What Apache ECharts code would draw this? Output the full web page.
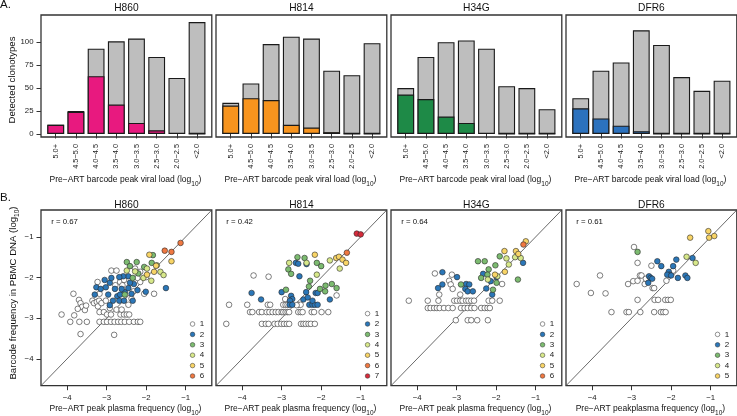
<!DOCTYPE html>
<html><head><meta charset="utf-8">
<script src="https://cdn.jsdelivr.net/npm/echarts@6/dist/echarts.min.js"></script>
<style>html,body{margin:0;padding:0;background:#fff}#c{width:737px;height:416px}</style>
</head><body><div id="c"></div>
<script>
// ---------- DATA ----------
const categories = ['5.0+','4.5−5.0','4.0−4.5','3.5−4.0','3.0−3.5','2.5−3.0','2.0−2.5','<2.0'];
const patients = ['H860','H814','H34G','DFR6'];
const totalH860 = [10,25,93,101,104,84,61,122];
const coloredH860 = [10,24,63,32,12,4,1,0];
const totalH814 = [34,55,98,106,104,69,64,99];
const coloredH814 = [31,39,37,10,7,2,0,0];
const totalH34G = [50,84,100,102,93,52,50,27];
const coloredH34G = [43,38,19,12,1,0,0,0];
const totalDFR6 = [39,69,78,113,97,62,47,58];
const coloredDFR6 = [28,17,9,3,0,0,0,0];
const yTicksA = [0,25,50,75,100];
const xyTicksB = [-4,-3,-2,-1];
const rValues = ['0.67','0.42','0.64','0.61'];
const groupNames = ['1','2','3','4','5','6','7'];

// scatter points [pre-ART peak plasma freq, PBMC DNA freq] (log10), by group
const h860_g1 = [[-4.14,-2.91],[-3.92,-3.09],[-3.84,-2.40],[-3.82,-2.93],[-3.69,-3.09],[-3.50,-3.09],[-3.70,-2.55],[-3.66,-2.63],[-3.62,-2.72],[-3.73,-2.77],[-3.55,-2.80],[-3.52,-2.69],[-3.66,-3.39],[-3.36,-2.57],[-3.32,-2.63],[-3.25,-2.60],[-3.19,-2.57],[-3.22,-2.71],[-3.13,-2.63],[-3.18,-2.85],[-3.07,-2.85],[-3.23,-2.11],[-3.18,-2.40],
 [-3.18,-3.09],[-3.07,-3.09],[-2.99,-3.09],[-2.89,-3.09],[-2.80,-3.09],[-2.71,-3.09],[-2.63,-3.09],[-2.54,-3.09],[-2.43,-3.09],[-2.31,-3.09],[-2.21,-3.09],[-2.15,-3.09],[-2.81,-3.41],
 [-2.99,-2.91],[-2.89,-2.91],[-2.65,-2.91],[-2.56,-2.91],[-2.49,-2.91],[-2.43,-2.91],
 [-2.88,-1.83],[-2.75,-1.83],[-2.78,-2.19],[-2.66,-2.11],[-2.56,-2.06],[-2.60,-2.19],[-2.28,-1.78],[-2.15,-1.86],[-2.45,-2.67],[-2.37,-2.52],[-2.75,-2.79],[-2.62,-2.79],[-2.05,-2.40],[-1.80,-2.40],[-2.15,-2.11],[-2.00,-1.99],[-2.22,-2.01],[-3.02,-2.57],[-2.92,-2.75],[-2.32,-2.34]];
const h860_g2 = [[-3.26,-2.24],[-3.30,-2.42],[-3.15,-2.28],[-3.02,-2.24],[-2.92,-2.13],[-2.88,-2.01],[-2.96,-2.42],[-2.79,-2.28],[-2.73,-2.46],[-2.84,-2.57],[-2.66,-2.42],[-2.68,-2.57],[-2.56,-2.57],[-2.54,-2.36],[-2.45,-2.26],[-2.37,-2.40],[-2.31,-2.16],[-2.22,-2.31],[-2.45,-1.97],[-2.58,-1.97],[-2.68,-1.99],[-2.92,-2.68],[-2.34,-2.57],[-2.01,-2.35],[-1.50,-2.26],[-3.05,-2.06],[-2.62,-2.28],[-2.41,-2.13]];
const h860_g3 = [[-2.49,-1.62],[-2.41,-1.72],[-2.24,-1.62],[-2.05,-1.74],[-1.86,-1.64],[-1.83,-1.45],[-2.34,-2.01],[-2.20,-1.90],[-2.54,-2.42]];
const h860_g4 = [[-2.49,-1.83],[-2.07,-2.01],[-1.87,-2.08],[-1.73,-1.70],[-1.64,-1.86],[-1.56,-1.94],[-2.28,-1.85],[-1.98,-1.78]];
const h860_g5 = [[-1.92,-1.44],[-1.75,-1.71],[-1.36,-1.60],[-1.98,-1.93],[-1.80,-1.86]];
const h860_g6 = [[-1.53,-1.34],[-1.36,-1.37],[-1.13,-1.15]];

const h814_g1 = [[-3.71,-1.95],[-3.33,-1.98],[-4.33,-2.67],[-4.40,-3.14],[-3.87,-2.67],[-3.35,-2.67],[-3.29,-2.67],[-2.96,-2.67],[-2.90,-2.67],[-2.85,-2.67],[-2.58,-2.67],[-2.52,-2.67],
 [-3.80,-2.85],[-3.74,-2.85],[-3.57,-2.85],[-3.50,-2.85],[-3.38,-2.85],[-3.31,-2.85],[-3.23,-2.85],[-3.15,-2.85],[-3.08,-2.85],[-3.00,-2.85],[-2.96,-2.85],[-2.90,-2.85],[-2.85,-2.85],[-2.81,-2.85],[-2.58,-2.85],[-2.52,-2.85],[-2.47,-2.85],[-2.24,-2.85],[-2.18,-2.85],[-1.99,-2.85],[-1.82,-2.85],
 [-3.50,-3.14],[-3.40,-3.14],[-3.33,-3.14],[-3.18,-3.14],[-3.10,-3.14],[-3.01,-3.14],[-2.94,-3.14],[-2.87,-3.14],[-2.81,-3.14],[-2.51,-3.14],[-2.45,-3.14],[-2.39,-3.14],[-2.32,-3.14],[-2.26,-3.14],[-2.16,-3.14],
 [-2.91,-2.53],[-2.62,-2.68],[-1.61,-2.44]];
const h814_g2 = [[-2.64,-1.64],[-2.58,-1.66],[-2.37,-1.67],[-2.55,-1.97],[-3.76,-2.38],[-3.52,-2.54],[-3.00,-2.36],[-2.76,-2.45],[-2.73,-2.53],[-2.79,-2.57],[-2.80,-2.67],[-2.73,-2.67],[-2.45,-2.54],[-2.38,-2.36],[-2.34,-2.49],[-2.30,-2.67],[-2.22,-2.67],[-2.16,-2.67],[-2.09,-2.67],[-2.14,-2.38],[-2.09,-2.38],[-2.22,-2.57],[-1.78,-2.54]];
const h814_g3 = [[-2.60,-1.50],[-2.42,-1.52],[-2.83,-1.80],[-2.76,-1.91],[-2.00,-1.72],[-2.89,-2.30],[-2.28,-2.08],[-2.31,-2.22],[-1.89,-2.20],[-1.73,-2.16],[-1.61,-2.26],[-1.90,-2.34],[-2.03,-2.28],[-2.11,-1.64]];
const h814_g4 = [[-2.81,-1.64],[-2.37,-1.64],[-1.78,-1.58],[-2.11,-1.93],[-1.53,-1.78]];
const h814_g5 = [[-2.16,-1.44],[-1.62,-1.52],[-1.55,-1.49],[-1.46,-1.56],[-1.37,-1.64]];
const h814_g6 = [[-1.35,-1.39]];
const h814_g7 = [[-1.10,-0.92],[-1.00,-0.94]];

const h34g_g1 = [[-3.55,-1.90],[-3.12,-1.93],[-3.19,-2.08],[-3.15,-2.17],[-3.10,-2.28],[-2.91,-2.42],[-3.44,-2.42],[-1.85,-2.16],
 [-4.21,-2.57],[-3.73,-2.57],[-3.46,-2.57],[-3.06,-2.57],[-2.99,-2.57],[-2.91,-2.57],[-2.85,-2.57],[-2.76,-2.57],[-2.70,-2.57],[-2.63,-2.57],[-2.56,-2.57],[-2.19,-2.57],[-2.10,-2.57],[-1.91,-2.57],
 [-3.73,-2.75],[-3.66,-2.75],[-3.57,-2.75],[-3.50,-2.75],[-3.43,-2.75],[-3.32,-2.75],[-3.21,-2.75],[-3.10,-2.75],[-2.89,-2.75],[-2.80,-2.75],[-2.72,-2.75],[-2.63,-2.75],[-2.55,-2.75],[-2.38,-2.75],[-2.29,-2.75],[-2.22,-2.75],[-2.16,-2.75],
 [-3.02,-3.05],[-2.72,-3.05],[-2.63,-3.05],[-2.48,-3.05],[-2.21,-3.05]];
const h34g_g2 = [[-3.36,-1.87],[-2.99,-1.99],[-3.36,-2.17],[-3.47,-2.26],[-2.76,-2.16],[-2.68,-2.17],[-2.78,-2.28],[-2.72,-2.34],[-2.59,-2.34],[-2.33,-1.91],[-2.14,-2.09],[-2.25,-2.27],[-2.10,-2.42],[-1.32,-1.64],[-1.99,-1.99]];
const h34g_g3 = [[-2.46,-1.60],[-2.29,-1.60],[-2.02,-1.70],[-1.91,-1.48],[-2.19,-1.80],[-2.38,-2.01],[-2.22,-1.93],[-2.89,-2.17],[-1.99,-2.13],[-1.45,-2.05],[-2.08,-2.30]];
const h34g_g4 = [[-1.74,-1.53],[-1.52,-1.50],[-1.38,-1.52],[-1.97,-1.97],[-2.21,-2.05],[-1.68,-1.68]];
const h34g_g5 = [[-1.25,-1.11],[-1.79,-1.35],[-1.50,-1.35],[-1.44,-1.42],[-1.78,-1.86],[-2.03,-1.93]];
const h34g_g6 = [[-1.31,-1.19]];

const dfr6_g1 = [[-2.94,-1.25],[-2.85,-1.64],[-2.50,-1.71],[-3.80,-1.95],[-4.39,-2.16],[-4.03,-2.38],[-3.66,-2.39],[-3.09,-2.16],[-2.96,-2.09],[-2.85,-2.08],[-2.79,-1.95],[-2.75,-1.95],[-2.67,-2.16],[-2.64,-2.03],[-2.47,-2.26],[-2.43,-2.26],[-2.12,-2.08],[-1.95,-1.83],
 [-2.85,-2.55],[-2.42,-2.55],[-2.33,-2.55],[-2.15,-2.55],[-2.08,-2.55],[-2.01,-2.55],
 [-3.51,-2.85],[-3.13,-2.85],[-3.07,-2.85],[-2.78,-2.85],[-2.43,-2.85],[-2.26,-2.85],[-2.20,-2.85],[-2.14,-2.85]];
const dfr6_g2 = [[-2.35,-1.60],[-2.25,-1.72],[-1.87,-1.56],[-1.95,-1.72],[-2.06,-1.86],[-2.04,-1.93],[-2.10,-1.93],[-2.00,-1.95],[-1.83,-2.01],[-1.64,-1.95],[-1.59,-2.01],[-1.46,-1.52],[-2.56,-1.97],[-2.52,-2.01],[-2.48,-2.03],[-2.58,-2.13]];
const dfr6_g3 = [[-2.85,-1.37]];
const dfr6_g4 = [[-1.61,-1.49],[-1.38,-1.64]];
const dfr6_g5 = [[-1.06,-0.86],[-1.04,-1.02],[-0.91,-0.98],[-1.52,-1.02]];

// ---------- STYLE / LAYOUT ----------
const FONT = '"Liberation Sans", Arial, Helvetica, sans-serif';
const totals = [totalH860,totalH814,totalH34G,totalDFR6];
const coloreds = [coloredH860,coloredH814,coloredH34G,coloredDFR6];
const pts = [[h860_g1,h860_g2,h860_g3,h860_g4,h860_g5,h860_g6],
             [h814_g1,h814_g2,h814_g3,h814_g4,h814_g5,h814_g6,h814_g7],
             [h34g_g1,h34g_g2,h34g_g3,h34g_g4,h34g_g5,h34g_g6],
             [dfr6_g1,dfr6_g2,dfr6_g3,dfr6_g4,dfr6_g5]];
const barColors = ['#E8197F','#F7941E','#1E8A47','#2C72BE'];
const ptColors = ['#FFFFFF','#2B77B8','#7CBB70','#D7E88A','#F8D466','#EF7841','#D62C3B'];
const PL = [41,216,391,566], PW = 170.8;
const TT = 15, TH = 122, BT = 210, BH = 175.7;
const YA = [-3.3,129.7], LB = [-4.66,-0.34];
const BAR_OFF = 4.64, BAR_GW = 161.5, BAR_W = 16.8;
const minus = v => String(v).replace('-', '−');

const grid = [], xAxis = [], yAxis = [], series = [], legend = [], graphic = [];
const frameGrid = (l, t, h) => ({left:l, top:t, width:PW, height:h, show:true, borderColor:'#333', borderWidth:1.3, backgroundColor:'rgba(0,0,0,0)'});
const tickStyle = {color:'#333', width:1};
const labStyle = {fontSize:7.8, color:'#1a1a1a', fontFamily:FONT};

for (let p=0;p<4;p++){ // 0-3 top frames
  grid.push(frameGrid(PL[p], TT, TH));
  xAxis.push({gridIndex:p, type:'value', min:0, max:1, show:false});
  yAxis.push({gridIndex:p, type:'value', min:YA[0], max:YA[1], show:p===0,
    axisLine:{show:false}, splitLine:{show:false},
    axisTick:{show:true, length:4.5, customValues:yTicksA, lineStyle:tickStyle},
    axisLabel:Object.assign({customValues:yTicksA, margin:7.5}, labStyle)});
}
for (let p=0;p<4;p++){ // 4-7 top bar grids
  grid.push({left:PL[p]+BAR_OFF, top:TT, width:BAR_GW, height:TH});
  xAxis.push({gridIndex:4+p, type:'category', data:categories,
    axisLine:{show:false}, splitLine:{show:false},
    axisTick:{show:true, alignWithLabel:true, length:4.5, lineStyle:tickStyle},
    axisLabel:{rotate:90, interval:0, margin:7, fontSize:7.4, color:'#1a1a1a', fontFamily:FONT}});
  yAxis.push({gridIndex:4+p, type:'value', min:YA[0], max:YA[1], show:false});
  series.push({type:'bar', name:'total '+patients[p], xAxisIndex:4+p, yAxisIndex:4+p, data:totals[p],
    barWidth:BAR_W, barGap:'-100%', z:2, silent:true,
    itemStyle:{color:'#BEBEBE', borderColor:'#1a1a1a', borderWidth:1.1}});
  series.push({type:'bar', name:'colored '+patients[p], xAxisIndex:4+p, yAxisIndex:4+p, data:coloreds[p],
    barWidth:BAR_W, barGap:'-100%', z:3, silent:true,
    itemStyle:{color:barColors[p], borderColor:'#1a1a1a', borderWidth:1.1}});
}
for (let p=0;p<4;p++){ // 8-11 bottom scatter grids
  grid.push(frameGrid(PL[p], BT, BH));
  xAxis.push({gridIndex:8+p, type:'value', min:LB[0], max:LB[1],
    axisLine:{show:false}, splitLine:{show:false},
    axisTick:{show:true, length:4.5, customValues:xyTicksB, lineStyle:tickStyle},
    axisLabel:Object.assign({customValues:xyTicksB, margin:8, formatter:minus}, labStyle)});
  yAxis.push({gridIndex:8+p, type:'value', min:LB[0], max:LB[1], show:p===0,
    axisLine:{show:false}, splitLine:{show:false},
    axisTick:{show:true, length:4.5, customValues:xyTicksB, lineStyle:tickStyle},
    axisLabel:Object.assign({customValues:xyTicksB, margin:7.5, formatter:minus}, labStyle)});
  series.push({type:'line', name:'identity '+p, xAxisIndex:8+p, yAxisIndex:8+p,
    data:[[LB[0],LB[0]],[LB[1],LB[1]]], symbol:'none', silent:true, z:2,
    lineStyle:{color:'#444', width:0.8}});
  pts[p].forEach((d,g)=>{
    series.push({type:'scatter', name:groupNames[g], xAxisIndex:8+p, yAxisIndex:8+p, data:d,
      symbol:'circle', symbolSize:5.6, z:3+g, silent:true,
      itemStyle:{color:ptColors[g], borderColor:'#2a2a2a', borderWidth:0.6, opacity:1}});
  });
  legend.push({data:groupNames.slice(0, pts[p].length), orient:'vertical', left:PL[p]+149, bottom:35.5,
    padding:0, itemGap:1.4, itemWidth:4.6, itemHeight:4.6, icon:'circle', selectedMode:false,
    itemStyle:{borderColor:'#2a2a2a', borderWidth:0.5},
    textStyle:{fontSize:8, lineHeight:9, color:'#1a1a1a', fontFamily:FONT}});
}

// texts
const txt = (x,y,text,size,align,extra) => Object.assign({type:'text', x:x, y:y, silent:true,
  style:{text:text, x:0, y:0, fontSize:size, fontFamily:FONT, fill:'#111', align:align||'center', verticalAlign:'middle'}}, extra||{});
const subRich = (size) => ({a:{fontSize:size, lineHeight:10, verticalAlign:'top', fontFamily:FONT, fill:'#111'},
  s:{fontSize:6.5, lineHeight:6.5, padding:[5,0,0,0], verticalAlign:'top', fontFamily:FONT, fill:'#111'}});
graphic.push(txt(0, 5.3, 'A.', 11.5, 'left'));
graphic.push(txt(0, 197.7, 'B.', 11.5, 'left'));
graphic.push(txt(11.9, 80, 'Detected clonotypes', 9.6, 'center', {rotation:Math.PI/2}));
const yTitle = txt(13.65, 293, '{a|Barcode frequency in PBMC DNA (log}{s|10}{a|)}', 9.6, 'center', {rotation:Math.PI/2});
yTitle.style.rich = subRich(9.6); graphic.push(yTitle);
const bottomX = ['Pre−ART peak plasma frequency (log','Pre−ART peak plasma frequency (log','Pre−ART peak plasma frequency (log','Pre−ART peakplasma frequency (log'];
for (let p=0;p<4;p++){
  const cx = PL[p] + PW/2;
  graphic.push(txt(cx, 7.8, patients[p], 10.2));
  graphic.push(txt(cx, 204.8, patients[p], 10.2));
  graphic.push(txt(PL[p]+10.3, 221.6, 'r = ' + rValues[p], 7.8, 'left'));
  const t1 = txt(cx-1, 180.5, '{a|Pre−ART barcode peak viral load (log}{s|10}{a|)}', 8.5);
  t1.style.rich = subRich(8.5); graphic.push(t1);
  const t2 = txt(cx-1, 409.3, '{a|' + bottomX[p] + '}{s|10}{a|)}', 8.5);
  t2.style.rich = subRich(8.5); graphic.push(t2);
}

const chart = echarts.init(document.getElementById('c'), null, {renderer:'canvas'});
chart.setOption({animation:false, backgroundColor:'#fff', textStyle:{fontFamily:FONT},
  grid, xAxis, yAxis, series, legend, graphic});
</script></body></html>
